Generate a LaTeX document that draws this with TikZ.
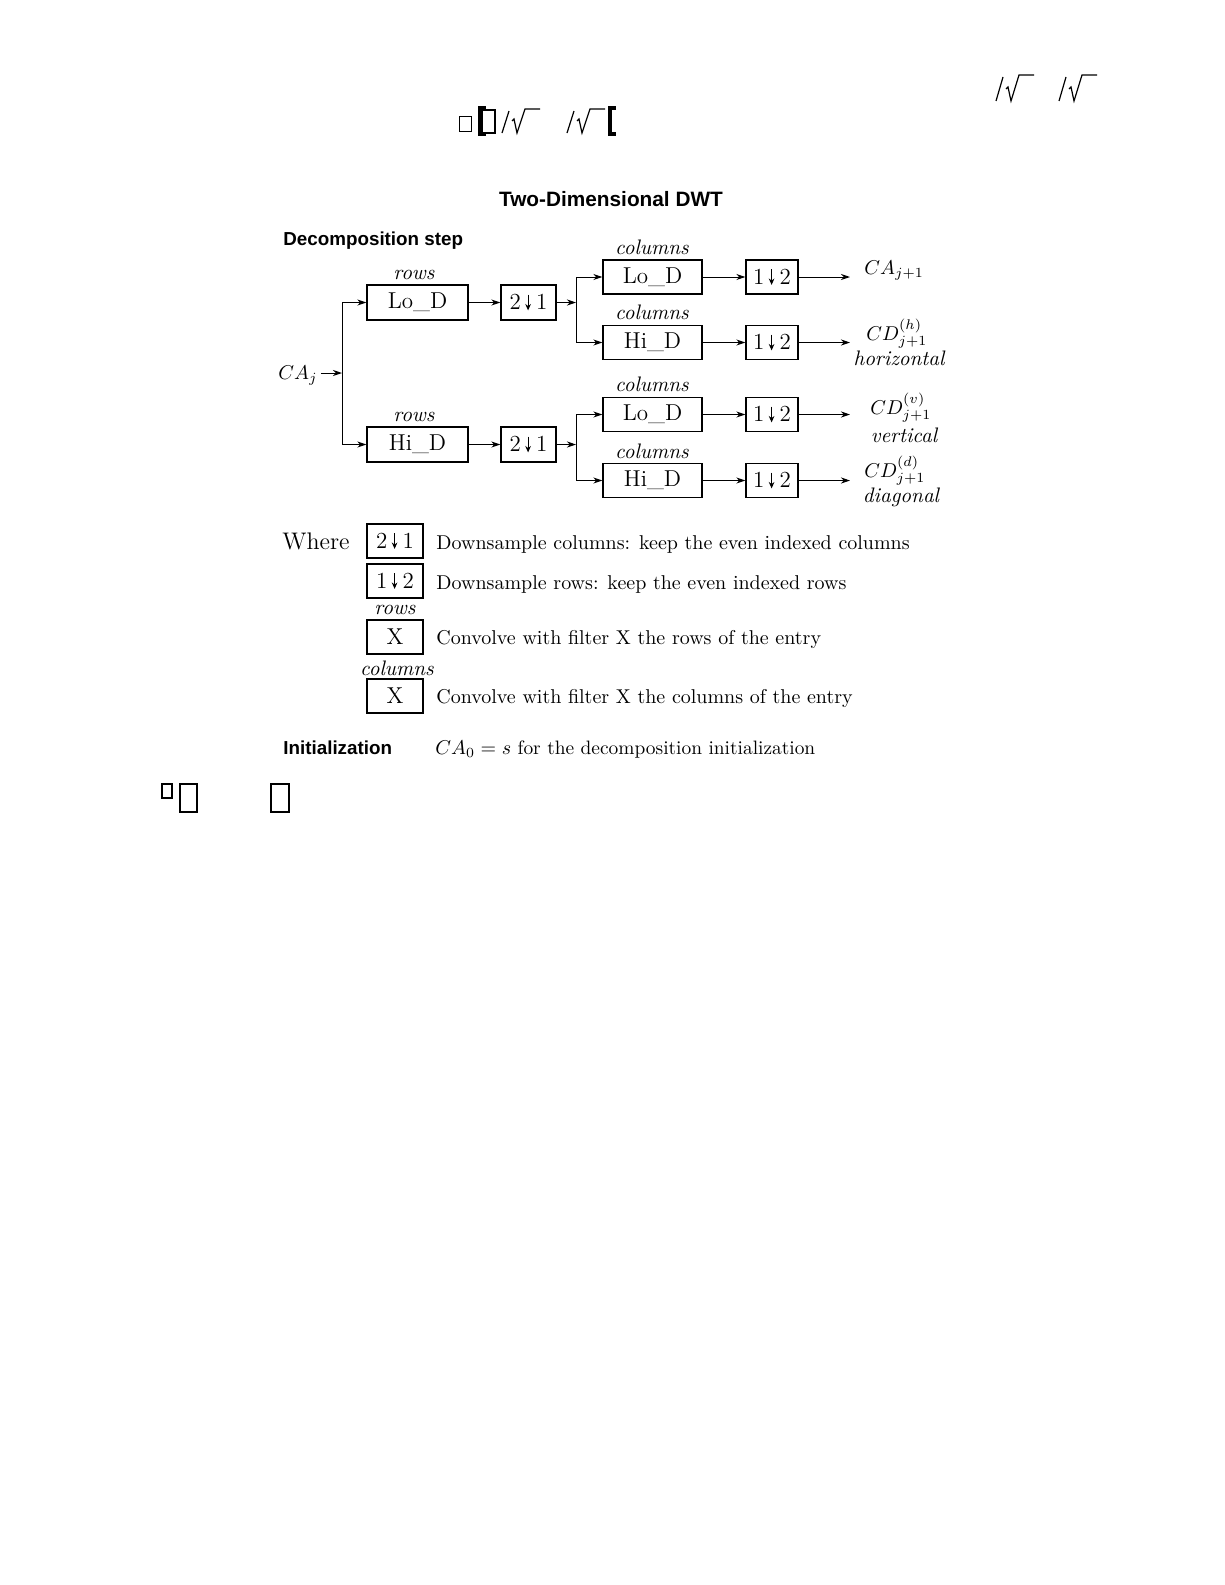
\documentclass[tikz,border=0pt]{standalone}
\usepackage{fontspec}
\newfontfamily\hv{Liberation Sans}
\usetikzlibrary{arrows.meta}
\newcommand\dnarr{\hspace{2.2pt}\tikz[baseline=0pt,x=1pt,y=1pt]{\draw[line width=0.55pt,-{Stealth[length=3.2pt,width=2.8pt]}] (0,7.6) -- (0,-0.3);}\hspace{2.6pt}}
\begin{document}
\begin{tikzpicture}[x=0.5pt,y=-0.5pt,
  box/.style={draw,line width=0.7pt,inner sep=0pt,font=\fontsize{11.5}{12}\selectfont},
  rbox/.style={box,minimum width=50.5pt,minimum height=17.5pt},
  dbox/.style={box,minimum width=27.5pt,minimum height=17.5pt},
  cbox/.style={box,minimum width=49.5pt,minimum height=17pt},
  ebox/.style={box,minimum width=26pt,minimum height=17pt},
  lbox/.style={box,minimum width=28pt,minimum height=17pt},
  lab/.style={inner sep=0pt,font=\fontsize{10.5}{12}\selectfont\itshape},
  outl/.style={inner sep=0pt,anchor=west,font=\fontsize{10}{12}\selectfont},
  desc/.style={inner sep=0pt,anchor=base west,font=\fontsize{10}{12}\selectfont},
  sans/.style={inner sep=0pt,anchor=base west,font=\hv\bfseries\fontsize{9.4}{11}\selectfont},
  arr/.style={-{Stealth[length=4.5pt,width=3pt]},line width=0.5pt},
  ln/.style={line width=0.5pt},
  junk/.style={line width=0.6pt},
]
\useasboundingbox (0,0) rectangle (1225,1585);

% --- stray glyph fragments at the top ---
\foreach \xo/\yt/\yb in {996/75/101, 1059/75/101, 502/109/133, 567/109/133}{
  \draw[junk] (\xo,\yb) -- (\xo+7,\yt+2);
  \draw[junk] (\xo+10,\yb-12) -- (\xo+12,\yb-14) -- (\xo+15,\yb) -- (\xo+23,\yt) -- (\xo+38,\yt);
}
\draw[line width=0.5pt] (459,116) rectangle (471,131);
\draw[line width=0.7pt] (482,110) rectangle (495,133);
\draw[line width=1.6pt] (486,108) -- (480,108) -- (480,134) -- (486,134);
\draw[line width=1.6pt] (616,108) -- (610,108) -- (610,134) -- (616,134);
% --- stray glyph fragments lower left ---
\draw[line width=0.8pt] (162,784) rectangle (172,798);
\draw[line width=1.2pt] (180,784) rectangle (197,812);
\draw[line width=1.2pt] (271,784) rectangle (289,812);

% --- titles ---
\node[inner sep=0pt,anchor=base,font=\hv\bfseries\fontsize{10.4}{12}\selectfont] (title) at (611,206) {Two-Dimensional DWT};
\node[sans] (dstep) at (283,245) {Decomposition step};

% --- boxes ---
\node[rbox] (rLo) at (417.5,302.5) {Lo\_D};
\node[rbox] (rHi) at (417.5,444.5) {Hi\_D};
\node[dbox] (dA) at (528.5,302.5) {2\dnarr 1};
\node[dbox] (dB) at (528.5,444.5) {2\dnarr 1};
\node[cbox] (cLoA) at (652.5,277) {Lo\_D};
\node[cbox] (cHiA) at (652.5,342.5) {Hi\_D};
\node[cbox] (cLoB) at (652.5,414.5) {Lo\_D};
\node[cbox] (cHiB) at (652.5,480.5) {Hi\_D};
\node[ebox] (eA) at (772,277) {1\dnarr 2};
\node[ebox] (eB) at (772,342.5) {1\dnarr 2};
\node[ebox] (eC) at (772,414.5) {1\dnarr 2};
\node[ebox] (eD) at (772,480.5) {1\dnarr 2};

% --- labels over boxes ---
\node[lab] (lr1) at (414,275) {rows};
\node[lab] (lr2) at (414,417) {rows};
\node[lab] (lc1) at (652,247) {columns};
\node[lab] (lc2) at (652,312) {columns};
\node[lab] (lc3) at (652,384) {columns};
\node[lab] (lc4) at (652,451) {columns};

% --- input ---
\node[outl] (ca) at (278,376) {$CA_j$};
\coordinate (sp) at (342,373);
\coordinate (spT) at (342,302.5);
\coordinate (spB) at (342,444.5);
\draw[arr] ([xshift=1.5pt]ca.east |- sp) -- (sp);
\draw[ln] (spT) -- (spB);
\draw[arr] (spT) -- (rLo.west);
\draw[arr] (spB) -- (rHi.west);
\draw[arr] (rLo.east) -- (dA.west);
\draw[arr] (rHi.east) -- (dB.west);

% --- second splits ---
\coordinate (sA) at (576,302.5);
\coordinate (sAT) at (576,277);
\coordinate (sAB) at (576,342.5);
\coordinate (sB) at (576,444.5);
\coordinate (sBT) at (576,414.5);
\coordinate (sBB) at (576,480.5);
\draw[arr] (dA.east) -- (sA);
\draw[arr] (dB.east) -- (sB);
\draw[ln] (sAT) -- (sAB);
\draw[ln] (sBT) -- (sBB);
\draw[arr] (sAT) -- (cLoA.west);
\draw[arr] (sAB) -- (cHiA.west);
\draw[arr] (sBT) -- (cLoB.west);
\draw[arr] (sBB) -- (cHiB.west);
\draw[arr] (cLoA.east) -- (eA.west);
\draw[arr] (cHiA.east) -- (eB.west);
\draw[arr] (cLoB.east) -- (eC.west);
\draw[arr] (cHiB.east) -- (eD.west);

% --- outputs ---
\coordinate (oA) at (850,277);
\coordinate (oB) at (850,342.5);
\coordinate (oC) at (850,414.5);
\coordinate (oD) at (850,480.5);
\draw[arr] (eA.east) -- (oA);
\draw[arr] (eB.east) -- (oB);
\draw[arr] (eC.east) -- (oC);
\draw[arr] (eD.east) -- (oD);
\node[outl] (caj) at (864,271) {$CA_{j+1}$};
\node[outl] (cdh) at (866,334) {$CD_{j+1}^{(h)}$};
\node[lab] (hor) at (899,358) {horizontal};
\node[outl] (cdv) at (870,408) {$CD_{j+1}^{(v)}$};
\node[lab] (ver) at (904,435) {vertical};
\node[outl] (cdd) at (864,471) {$CD_{j+1}^{(d)}$};
\node[lab] (dia) at (901,497) {diagonal};

% --- legend ---
\node[inner sep=0pt,anchor=base west,font=\fontsize{12}{14}\selectfont] (where) at (282,549) {Where};
\node[lbox] (L1) at (395,541) {2\dnarr 1};
\node[lbox] (L2) at (395,581) {1\dnarr 2};
\node[lab] (Lr) at (395,610) {rows};
\node[lbox] (L3) at (395,637) {X};
\node[lab] (Lc) at (397,668) {columns};
\node[lbox] (L4) at (395,696) {X};
\node[desc] (t1) at (436,549) {Downsample columns: keep the even indexed columns};
\node[desc] (t2) at (436,589) {Downsample rows: keep the even indexed rows};
\node[desc] (t3) at (436,644) {Convolve with filter X the rows of the entry};
\node[desc] (t4) at (436,703) {Convolve with filter X the columns of the entry};

% --- initialization ---
\node[sans] (init) at (283,754) {Initialization};
\node[desc,font=\fontsize{9.7}{12}\selectfont] (t5) at (435,754) {$CA_0 = s$ for the decomposition initialization};
\end{tikzpicture}
\end{document}
